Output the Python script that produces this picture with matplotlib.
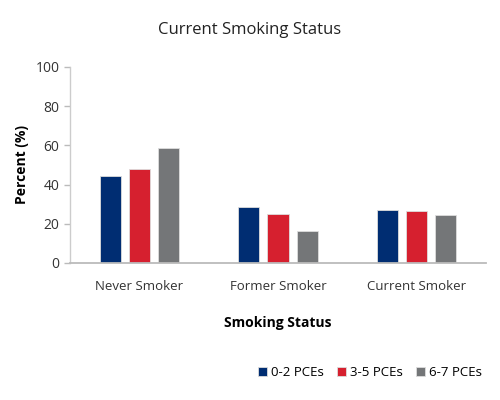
import numpy as np
import matplotlib.pyplot as plt

categories = ["Never Smoker", "Former Smoker", "Current Smoker"]
series_names = ["0-2 PCEs", "3-5 PCEs", "6-7 PCEs"]
pce_0_2 = [44.5, 28.5, 27.0]
pce_3_5 = [48.0, 25.0, 26.5]
pce_6_7 = [58.5, 16.3, 24.3]
colors = ["#002d72", "#d6202f", "#747678"]

plt.rcParams["font.family"] = ["Open Sans", "DejaVu Sans"]

fig = plt.figure(figsize=(5, 4), dpi=100)
ax = fig.add_axes([0.14, 0.3425, 0.832, 0.49])

x = np.arange(len(categories))
width = 0.153
gap = 0.21
for i, (vals, name) in enumerate(zip([pce_0_2, pce_3_5, pce_6_7], series_names)):
    ax.bar(x + (i - 1) * gap, vals, width, color=colors[i], label=name,
           edgecolor="#dddddd", linewidth=0.6)

ax.set_xlim(-0.5, 2.5)
ax.set_ylim(0, 100)
ax.set_yticks([0, 20, 40, 60, 80, 100])
ax.set_xticks(x)
ax.set_xticklabels(categories, fontsize=9.5, color="#333333")
ax.tick_params(axis="y", labelsize=10, labelcolor="#333333", color="#bbbbbb",
               length=4, width=1)
ax.tick_params(axis="x", length=0, pad=12)
for s in ["top", "right"]:
    ax.spines[s].set_visible(False)
ax.spines["left"].set_color("#cccccc")
ax.spines["bottom"].set_color("#bbbbbb")
ax.spines["left"].set_linewidth(1)
ax.spines["bottom"].set_linewidth(1.3)

ax.set_ylabel("Percent (%)", fontsize=10, fontweight="bold", labelpad=5)
ax.set_xlabel("Smoking Status", fontsize=10, fontweight="bold", labelpad=17)
fig.text(0.5, 0.915, "Current Smoking Status", ha="center", fontsize=12,
         color="#222222")

ax.legend(loc="center right", bbox_to_anchor=(1.02, -0.56), ncol=3,
          frameon=False, fontsize=9.5, handlelength=0.7, handleheight=0.7,
          columnspacing=1.0, handletextpad=0.3)

fig.savefig("out.png", dpi=100)
